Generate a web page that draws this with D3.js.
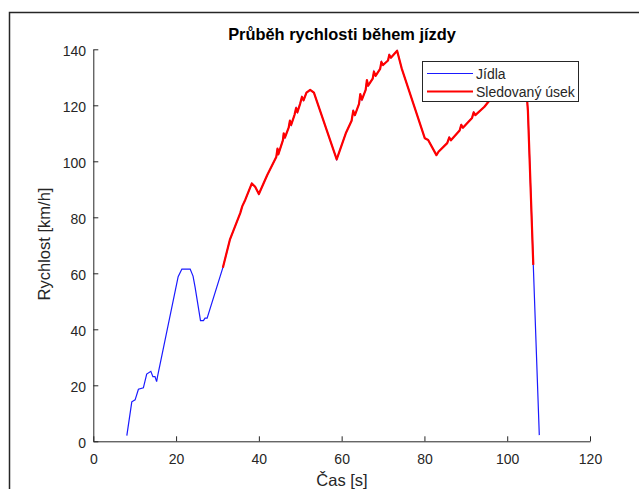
<!DOCTYPE html>
<html><head><meta charset="utf-8">
<script src="https://cdn.jsdelivr.net/npm/d3@7"></script>
<style>
html,body{margin:0;padding:0;background:#fff;}
svg{display:block;font-family:"Liberation Sans",Arial,Helvetica,sans-serif;}
</style></head>
<body>
<script>
// ---- data ----
const titleText = "Průběh rychlosti během jízdy";
const xLabel = "Čas [s]";
const yLabel = "Rychlost [km/h]";
const seriesNames = ["Jídla", "Sledovaný úsek"];
const xTicks = [0, 20, 40, 60, 80, 100, 120];
const yTicks = [0, 20, 40, 60, 80, 100, 120, 140];
const times = [8.1, 9.3, 10.1, 10.9, 12.1, 12.9, 13.9, 14.4, 14.9, 15.3, 15.5, 20.5, 21.4, 23.4, 24.1, 24.6, 25.9, 26.6, 27.0, 27.5,
  31.3, 33.0, 35.5, 36.0, 36.7, 38.3, 39.1, 40.0, 42.0, 44.2, 44.5, 44.7, 45.8, 46.0, 46.3, 47.2, 47.5, 47.8, 48.6, 49.0, 49.3,
  50.0, 50.4, 50.8, 51.5, 52.4, 53.3, 58.8, 61.0, 62.4, 62.8, 63.2, 64.2, 64.5, 64.9, 65.8, 66.1, 66.4, 67.5, 67.8, 68.2,
  69.3, 69.6, 70.0, 71.2, 71.5, 71.9, 73.4, 74.5, 80.1, 80.9, 82.9, 83.4, 85.5, 86.0, 86.4, 88.5, 88.9, 89.3, 91.5, 91.9, 92.3,
  94.5, 95.8, 98.0, 100.5, 103.0, 104.6, 105.0, 106.3, 107.75];
const speeds = [2.0, 14.1, 14.8, 18.6, 19.1, 24.0, 25.0, 23.1, 23.1, 21.3, 23.0, 58.8, 61.5, 61.5, 59.0, 55.0, 43.1, 43.1, 44.0, 44.0,
  62.0, 72.0, 81.5, 84.0, 86.2, 92.1, 90.9, 88.3, 95.0, 101.5, 104.5, 102.5, 107.5, 110.0, 108.5, 112.0, 114.5, 113.0, 116.5, 119.0, 117.5,
  120.7, 123.0, 121.8, 124.5, 125.5, 124.5, 100.7, 110.0, 114.5, 118.0, 116.5, 120.5, 124.0, 122.0, 125.5, 129.0, 127.0, 129.5, 132.0, 130.5,
  133.0, 135.5, 134.4, 136.0, 138.0, 137.0, 139.5, 133.2, 108.2, 107.6, 102.2, 103.4, 106.5, 108.5, 107.5, 111.0, 113.0, 112.0, 115.5, 117.5, 116.5,
  119.5, 121.9, 123.5, 124.5, 125.5, 126.0, 118.0, 63.0, 2.2];
const trackedStart = 31.3;
const trackedEnd = 106.3;

// ---- drawing ----
const W = 640, H = 489;
const svg = d3.select("body").append("svg").attr("width", W).attr("height", H);

// outer figure frame
svg.append("path").attr("d", "M9.5,495 L9.5,12.5 L639,12.5")
  .attr("fill", "none").attr("stroke", "#262626").attr("stroke-width", 1.5);

const x = d3.scaleLinear().domain([0, 120]).range([93.3, 590]);
const y = d3.scaleLinear().domain([0, 140]).range([441.3, 49.3]);

const axisColor = "#262626";
const gx = svg.append("g").attr("transform", `translate(0,${y(0)})`)
  .call(d3.axisBottom(x).tickValues(xTicks).tickSizeInner(-5).tickSizeOuter(0).tickPadding(12.5));
const gy = svg.append("g").attr("transform", `translate(${x(0)},0)`)
  .call(d3.axisLeft(y).tickValues(yTicks).tickSizeInner(-5).tickSizeOuter(0).tickPadding(7.3));
[gx, gy].forEach(g => {
  g.select(".domain").attr("stroke", axisColor).attr("stroke-width", 1);
  g.selectAll(".tick line").attr("stroke", axisColor).attr("stroke-width", 1);
  g.selectAll(".tick text").attr("fill", axisColor).attr("font-size", 14)
    .attr("font-family", "Liberation Sans, Arial, sans-serif");
});
gy.selectAll(".tick text").attr("dy", "0.45em");

const pts = times.map((t, i) => ({ t, v: speeds[i] }));
const line = d3.line().x(d => x(d.t)).y(d => y(d.v));

svg.append("path").datum(pts).attr("d", line)
  .attr("fill", "none").attr("stroke", "#1a1aff").attr("stroke-width", 1.2);
svg.append("path").datum(pts.filter(d => d.t >= trackedStart && d.t <= trackedEnd)).attr("d", line)
  .attr("fill", "none").attr("stroke", "#ff0000").attr("stroke-width", 2.2).attr("stroke-linejoin", "round");

// title
svg.append("text").attr("x", 342).attr("y", 39.5).attr("text-anchor", "middle")
  .attr("font-weight", "bold").attr("font-size", 16.4).attr("fill", "#000").text(titleText);
// axis labels
svg.append("text").attr("x", 342).attr("y", 486).attr("text-anchor", "middle")
  .attr("font-size", 16.5).attr("fill", axisColor).text(xLabel);
svg.append("text").attr("transform", "translate(50,244) rotate(-90)").attr("text-anchor", "middle")
  .attr("font-size", 16.5).attr("fill", axisColor).text(yLabel);

// legend
const lg = svg.append("g");
lg.append("rect").attr("x", 422.5).attr("y", 61.5).attr("width", 156).attr("height", 40)
  .attr("fill", "#fff").attr("stroke", axisColor).attr("stroke-width", 1);
const legColors = ["#1a1aff", "#ff0000"], legWidths = [1.2, 2.2], legY = [73.5, 91.5];
seriesNames.forEach((n, i) => {
  lg.append("line").attr("x1", 427).attr("x2", 473).attr("y1", legY[i]).attr("y2", legY[i])
    .attr("stroke", legColors[i]).attr("stroke-width", legWidths[i]);
  lg.append("text").attr("x", 476).attr("y", legY[i] + 5).attr("font-size", 14)
    .attr("fill", axisColor).text(n);
});
</script>
</body></html>
